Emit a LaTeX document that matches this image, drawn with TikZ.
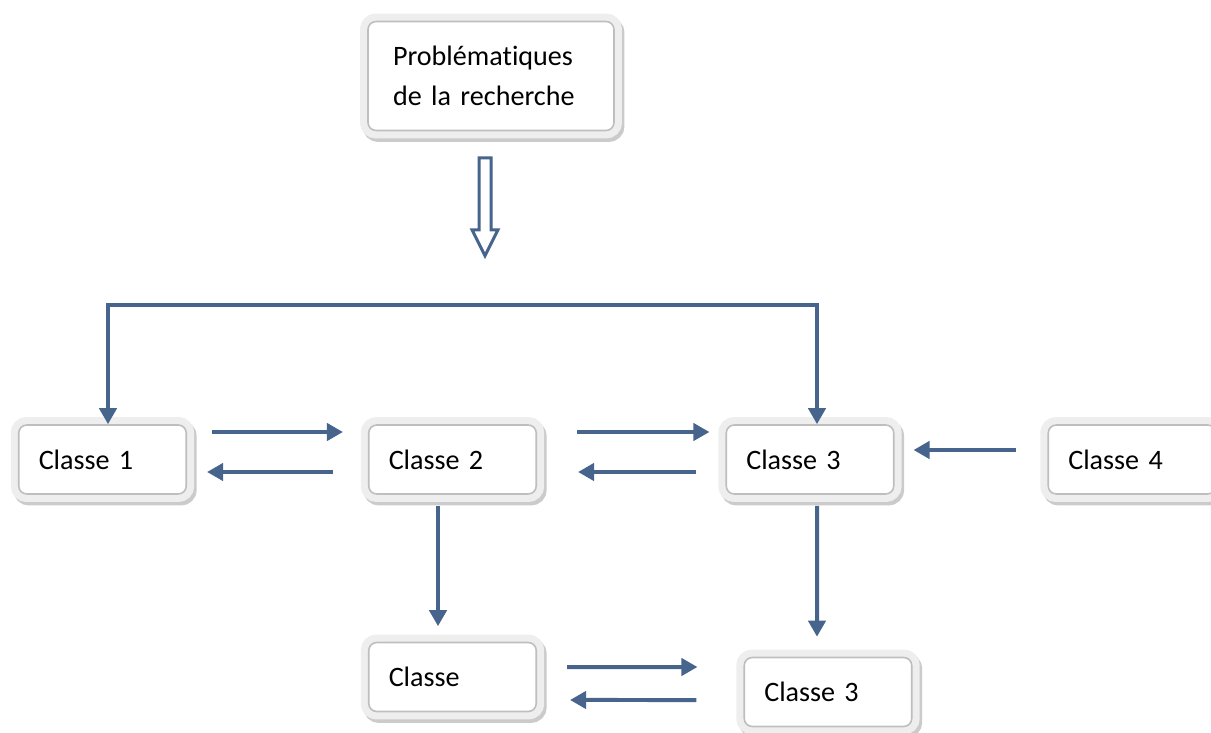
\documentclass[tikz,border=0pt]{standalone}
\usepackage{fontspec}
\setmainfont{Carlito}[Ligatures=CommonOff]
\usetikzlibrary{arrows.meta,shadows}
\definecolor{arrowblue}{HTML}{46648C}
\definecolor{framegray}{HTML}{EEEEEE}
\definecolor{edgegray}{HTML}{BEBEBE}
\definecolor{shadegray}{HTML}{CBCBCB}
\begin{document}
\begin{tikzpicture}[x=0.02cm, y=-0.02cm,
    box/.style = {draw=edgegray, line width=0.9pt, fill=white, rounded corners=0.16cm,
      drop shadow={shadow xshift=0.05cm, shadow yshift=-0.07cm, opacity=1, fill=shadegray, draw=shadegray, line width=0.32cm},
      preaction={draw=framegray, line width=0.32cm},
      minimum height=1.38cm, text width=2.55cm, inner xsep=0.4cm, inner ysep=0pt, align=left,
      font=\fontsize{16pt}{23pt}\selectfont},
    arr/.style = {draw=arrowblue, line width=0.08cm, -{Triangle[length=0.32cm, width=0.34cm]}},
    hollow/.style = {draw=arrowblue, line width=0.06cm, fill=white, line join=miter}]
	\useasboundingbox (0,0) rectangle (1211,733);
	
	\node[box, minimum height=2.18cm, text width=3.92cm, inner xsep=0.5cm] (prob) at (491,76) {Problématiques\\de la recherche};
	\node[box] (cl1) at (102.5,459.5) {Classe 1};
	\node[box] (cl2) at (452.5,459.5) {Classe 2};
	\node[box] (cl3) at (810,459.5) {Classe 3};
	\node[box] (cl4) at (1132,459.5) {Classe 4};
	\node[box] (clb) at (452.5,677) {Classe};
	\node[box] (cl3b) at (828,692) {Classe 3};
	\coordinate (split) at (486,305);
	
	% hollow arrow under the top box
	\draw[hollow] ([xshift=-0.24cm, yshift=-0.53cm]prob.south) -- ++(0,-1.44cm) -- ++(-0.14cm,0)
		-- ++(0.26cm,-0.52cm) -- ++(0.26cm,0.52cm) -- ++(-0.14cm,0) -- ++(0,1.44cm) -- cycle;
	
	\draw[arr] (split) -| ([xshift=0.11cm]cl1.north);
	\draw[arr] (split) -| ([xshift=0.14cm]cl3.north);
	
	\draw[arr] ([xshift=0.5cm, yshift=0.55cm]cl1.east) -- ([xshift=-0.5cm, yshift=0.55cm]cl2.west);
	\draw[arr] ([xshift=-0.7cm, yshift=-0.25cm]cl2.west) -- ([xshift=0.4cm, yshift=-0.25cm]cl1.east);
	\draw[arr] ([xshift=0.8cm, yshift=0.55cm]cl2.east) -- ([xshift=-0.32cm, yshift=0.55cm]cl3.west);
	\draw[arr] ([xshift=-0.58cm, yshift=-0.25cm]cl3.west) -- ([xshift=0.82cm, yshift=-0.25cm]cl2.east);
	\draw[arr] ([xshift=-0.62cm, yshift=0.19cm]cl4.west) -- ([xshift=0.38cm, yshift=0.19cm]cl3.east);
	
	\draw[arr] ([xshift=-0.29cm, yshift=-0.22cm]cl2.south) -- ([xshift=-0.29cm, yshift=0.31cm]clb.north);
	\draw[arr] ([xshift=0.14cm, yshift=-0.22cm]cl3.south) -- ([xshift=-0.22cm, yshift=0.4cm]cl3b.north);
	
	\draw[arr] ([xshift=0.6cm, yshift=0.2cm]clb.east) -- ([xshift=-0.92cm, yshift=0.5cm]cl3b.west);
	\draw[arr] ([xshift=-0.94cm, yshift=-0.16cm]cl3b.west) -- ([xshift=0.66cm, yshift=-0.46cm]clb.east);
\end{tikzpicture}
\end{document}
